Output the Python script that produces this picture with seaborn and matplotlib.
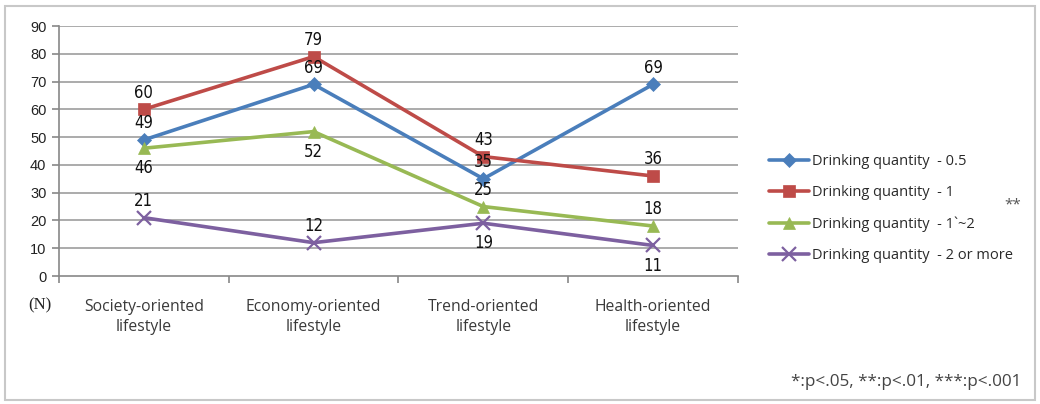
import matplotlib
matplotlib.use("Agg")
import matplotlib.pyplot as plt
import seaborn as sns
import pandas as pd
from matplotlib.patches import Rectangle

categories = ["Society-oriented\nlifestyle", "Economy-oriented\nlifestyle",
              "Trend-oriented\nlifestyle", "Health-oriented\nlifestyle"]
series_names = ["Drinking quantity  - 0.5", "Drinking quantity  - 1",
                "Drinking quantity  - 1`~2", "Drinking quantity  - 2 or more"]
q_05 = [49, 69, 35, 69]
q_1 = [60, 79, 43, 36]
q_1_2 = [46, 52, 25, 18]
q_2plus = [21, 12, 19, 11]
label_above = [
    [True, True, True, True],
    [True, True, True, True],
    [False, False, True, True],
    [True, True, False, False],
]

values = [q_05, q_1, q_1_2, q_2plus]
colors = ["#4A7EBB", "#BE4B48", "#98B954", "#7D60A0"]
markers = ["D", "s", "^", "x"]
msizes = [7, 9, 9, 10]

rows = []
for name, vals in zip(series_names, values):
    for i, v in enumerate(vals):
        rows.append({"pos": i, "value": v, "series": name})
df = pd.DataFrame(rows)

sns.set_theme(style="white")
plt.rcParams["font.family"] = ["DejaVu Sans"]

fig = plt.figure(figsize=(10.4, 4.04), dpi=100)
ax = fig.add_axes([0.0567, 0.3168, 0.6529, 0.6188])

for yv in range(10, 100, 10):
    ax.axhline(yv, color="#ababab", lw=1.4, zorder=0)

for name, col, mk, ms in zip(series_names, colors, markers, msizes):
    sub = df[df["series"] == name]
    sns.lineplot(data=sub, x="pos", y="value", ax=ax, color=col, lw=2.6,
                 marker=mk, markersize=ms, markeredgecolor=col,
                 markeredgewidth=1.6 if mk == "x" else 0.5, label=name,
                 legend=False, zorder=3)

for vals, flags in zip(values, label_above):
    for i, (v, up) in enumerate(zip(vals, flags)):
        ax.annotate(str(v), (i, v), xytext=(0, 5.5 if up else -8),
                    textcoords="offset points", ha="center",
                    va="bottom" if up else "top", fontsize=12,
                    family="DejaVu Sans", stretch="condensed", color="#111111")

ax.set_xlim(-0.5, 3.5)
ax.set_ylim(0, 90)
ax.set_yticks(range(0, 100, 10))
ax.set_yticklabels([str(t) for t in range(0, 100, 10)], fontsize=10.5, color="#222222",
                   family="Liberation Sans")
ax.set_xticks([-0.5, 0.5, 1.5, 2.5, 3.5])
ax.set_xticklabels([])
ax.tick_params(axis="x", length=5, width=1.2, color="#888888", direction="out", bottom=True)
ax.tick_params(axis="y", length=5, width=1.2, color="#888888", direction="out", left=True, pad=4)
for i, c in enumerate(categories):
    ax.text(i, -8.3, c, ha="center", va="top", fontsize=11.3, family="Open Sans",
            color="#3a3a3a", linespacing=1.3, transform=ax.transData)
ax.set_xlabel("")
ax.set_ylabel("")
for s in ["top", "right"]:
    ax.spines[s].set_visible(False)
ax.spines["left"].set_color("#888888")
ax.spines["bottom"].set_color("#888888")
ax.spines["left"].set_linewidth(1.2)
ax.spines["bottom"].set_linewidth(1.2)

fig.text(40 / 1040, 1 - 305 / 404, "(N)", fontsize=12, family="Liberation Serif",
         ha="center", va="center", color="#222222")

handles, labels = ax.get_legend_handles_labels()
leg = fig.legend(handles, labels, loc="upper left", bbox_to_anchor=(756 / 1040, 1 - 141 / 404),
                 frameon=False, prop={"family": "Open Sans", "size": 10.5},
                 handlelength=2.7, labelspacing=1.1, handletextpad=0.25)
for t in leg.get_texts():
    t.set_color("#2a2a2a")

fig.text(1013 / 1040, 1 - 205 / 404, "**", fontsize=11, ha="center", va="center",
         color="#555555", family="Open Sans")
fig.text(1021 / 1040, 1 - 382 / 404, "*:p<.05, **:p<.01, ***:p<.001", fontsize=12.3,
         ha="right", va="center", color="#444444", family="Open Sans")

fig.patches.append(Rectangle((5 / 1040, 4 / 404), 1030 / 1040, 394 / 404,
                             transform=fig.transFigure, fill=False,
                             edgecolor="#c8c8c8", lw=1.5))

fig.savefig("out.png", dpi=100, facecolor="white")
